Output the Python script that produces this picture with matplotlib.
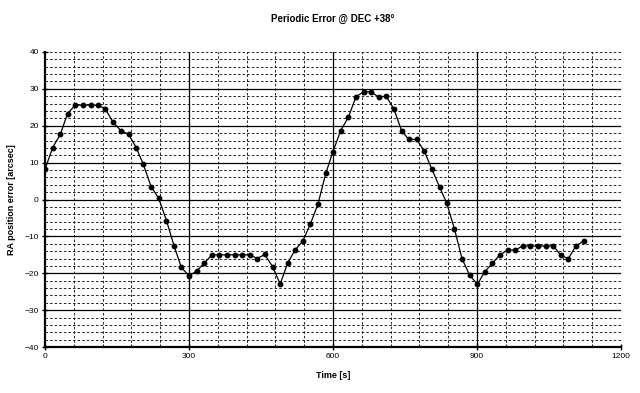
import matplotlib.pyplot as plt
import numpy as np
from matplotlib.ticker import MultipleLocator

plt.rcParams['font.family'] = ['Liberation Sans', 'DejaVu Sans']

# time [s]
time_s = [0, 16, 32, 47, 63, 79, 95, 111, 126, 142, 158, 174, 190, 205, 221, 237,
          253, 269, 284, 300, 316, 332, 348, 363, 379, 395, 411, 427, 442, 458, 474, 490,
          506, 521, 537, 553, 569, 585, 600, 616, 632, 648, 664, 679, 695, 711, 727, 743,
          758, 774, 790, 806, 822, 837, 853, 869, 885, 901, 916, 932, 948, 964, 980, 995,
          1011, 1027, 1043, 1059, 1074, 1090, 1106, 1122]

# RA position error [arcsec]
ra_error = [8.2, 14.1, 17.7, 23.3, 25.6, 25.6, 25.6, 25.6, 24.5, 20.9, 18.7, 17.7, 14.1, 9.5, 3.5, 0.3,
            -5.7, -12.6, -18.4, -20.7, -19.4, -17.2, -15.0, -15.0, -15.0, -15.0, -15.0, -15.0, -16.0, -14.9, -18.2, -22.9,
            -17.1, -13.7, -11.3, -6.6, -1.1, 7.1, 13.0, 18.7, 22.3, 27.9, 29.2, 29.2, 27.8, 28.0, 24.5, 18.6,
            16.3, 16.3, 13.2, 8.2, 3.4, -1.0, -8.0, -16.1, -20.6, -23.0, -19.6, -17.3, -15.0, -13.7, -13.7, -12.6,
            -12.6, -12.6, -12.6, -12.6, -15.0, -16.1, -12.6, -11.3]

fig = plt.figure(figsize=(6.4, 3.93), dpi=100)
ax = fig.add_axes([0.0703, 0.117, 0.9, 0.7507])

ax.set_xlim(0, 1200)
ax.set_ylim(-40, 40)

ax.xaxis.set_major_locator(MultipleLocator(300))
ax.xaxis.set_minor_locator(MultipleLocator(60))
ax.yaxis.set_major_locator(MultipleLocator(10))

# gitter: gestrichelt alle 2 / 60, durchgezogen alle 10 / 300
dot = dict(color='black', linestyle=(0, (3, 2.5)), linewidth=0.6, zorder=1)
solid = dict(color='black', linestyle='-', linewidth=0.9, zorder=1)
for y in range(-38, 41, 2):
    if y % 10 == 0 and y != 40:
        ax.axhline(y, **solid)
    else:
        ax.axhline(y, **dot)
for x in range(60, 1200, 60):
    if x % 300 == 0:
        ax.axvline(x, **solid)
    else:
        ax.axvline(x, **dot)

ax.plot(time_s, ra_error, color='black', linewidth=0.9, marker='o', markersize=3.2, zorder=3)

for s in ['top', 'right']:
    ax.spines[s].set_visible(False)
for s in ['left', 'bottom']:
    ax.spines[s].set_linewidth(1.6)
    ax.spines[s].set_zorder(4)

ax.tick_params(which='major', direction='inout', length=5, width=1, labelsize=6, pad=2)
ax.tick_params(which='minor', axis='x', direction='in', length=2, width=0.6)

ax.set_title('Periodic Error @ DEC +38°', fontsize=7, fontweight='bold', pad=22)
ax.set_xlabel('Time [s]', fontsize=6.5, fontweight='bold', labelpad=8)
ax.set_ylabel('RA position error [arcsec]', fontsize=6.5, fontweight='bold', labelpad=6)

plt.savefig('out.png', dpi=100)
